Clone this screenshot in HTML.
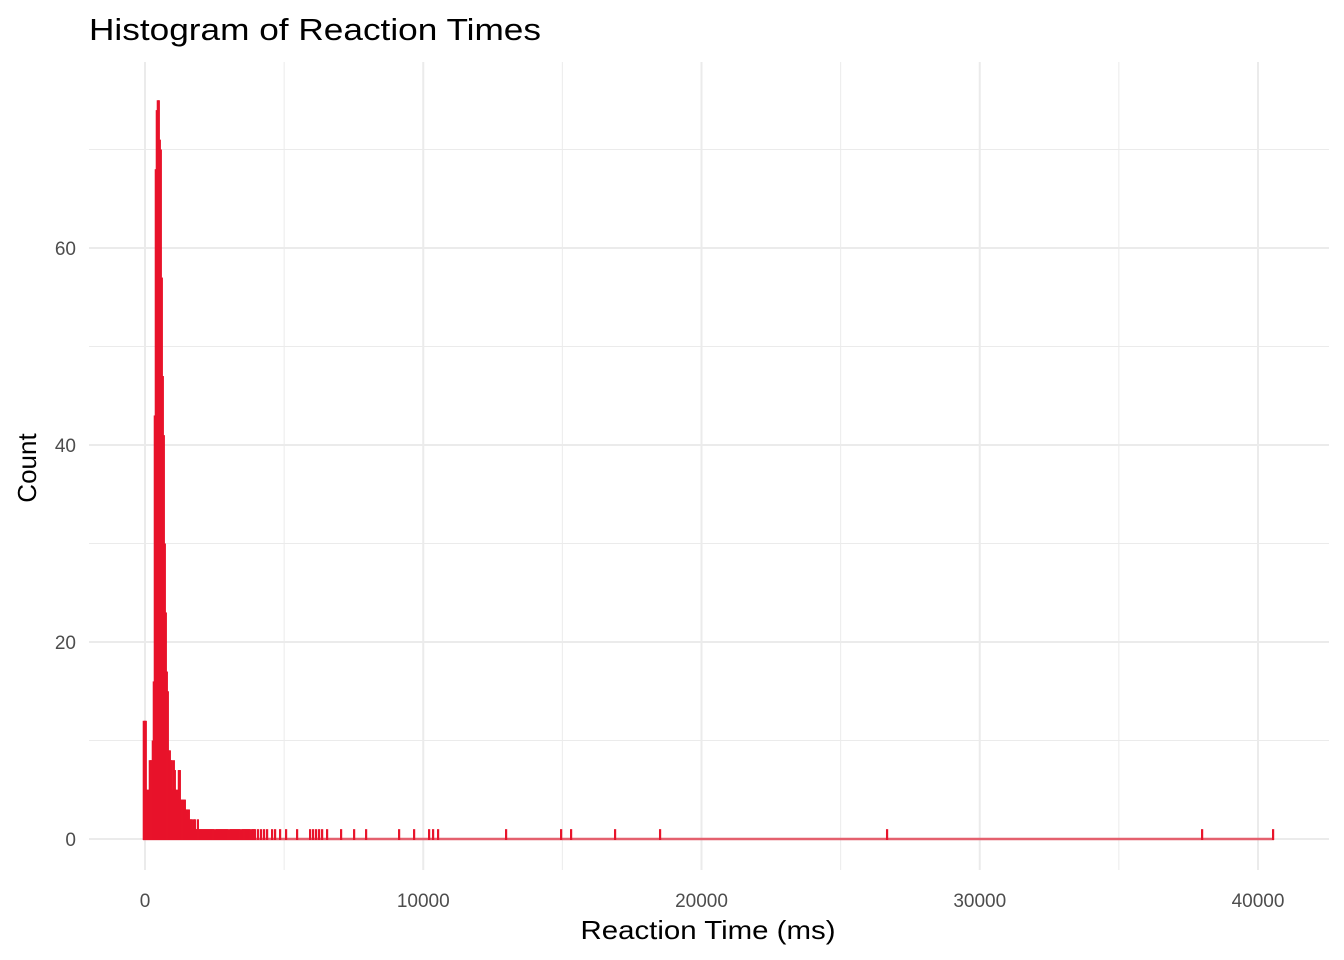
<!DOCTYPE html>
<html><head><meta charset="utf-8"><style>
html,body{margin:0;padding:0;background:#fff;}
svg{display:block;font-family:"Liberation Sans",Arial,sans-serif;}
</style></head><body>
<svg id="chart" width="1344" height="960" viewBox="0 0 1344 960">
<text x="89" y="40" font-size="31" fill="#000" textLength="452" lengthAdjust="spacingAndGlyphs">Histogram of Reaction Times</text>
<g id="grid"></g>
<g id="bars"></g>
<g id="axes"></g>
<text x="708" y="939" font-size="26" text-anchor="middle" fill="#000" textLength="255" lengthAdjust="spacingAndGlyphs">Reaction Time (ms)</text>
<text transform="translate(36,468) rotate(-90)" font-size="26" text-anchor="middle" fill="#000">Count</text>
</svg>
<script>
const binWidth = 36;
const firstBinStart = -72;
const binCounts = [12,12,12,5,5,5,8,8,8,10,16,43,68,74,75,75,71,70,57,47,41,30,23,17,15,9,9,8,8,5,8,7,5,5,5,7,7,4,4,4,4,4,3,3,3,3,2,2,2,1,2,2,1,1,2,
1,1,1,1,1,1,1,1,1,1,1,1,1,1,1,1,0,1,1,1,1,1,1,1,1,1,1,1,1,1,0,1,1,1,1,1,1,1,1,1,1,1,0,1,1,1,1,1,1,1,1,1,0,1,1,1];
const tailValues = [3953,4061,4169,4277,4385,4564,4672,4852,5067,5463,5930,6038,6146,6254,6362,6541,7044,7512,7943,9129,9668,10207,10350,10530,12974,14951,15310,16891,18508,26666,37988,40539];
const xTicks = [0,10000,20000,30000,40000];
const xMinor = [5000,15000,25000,35000];
const yTicks = [0,20,40,60];
const yMinor = [10,30,50,70];
const xMax = 40539;

const NS="http://www.w3.org/2000/svg";
const X = v => 145 + v*(1258-145)/40000;
const Y = v => 839 - v*(839-248)/60;
const PL=89, PR=1329, PT=62, PB=870;
function mk(tag, attrs, parent){const e=document.createElementNS(NS,tag);for(const k in attrs)e.setAttribute(k,attrs[k]);parent.appendChild(e);return e;}
const grid=document.getElementById('grid'), bars=document.getElementById('bars'), axes=document.getElementById('axes');
yMinor.forEach(v=>{const l=mk('line',{x1:PL,x2:PR,y1:Y(v),y2:Y(v),stroke:'#ebebeb','stroke-width':1},grid);

});
xMinor.forEach(v=>{const l=mk('line',{x1:X(v),x2:X(v),y1:PT,y2:PB,stroke:'#ebebeb','stroke-width':1},grid);

});
yTicks.forEach(v=>{const l=mk('line',{x1:PL,x2:PR,y1:Y(v),y2:Y(v),stroke:'#ebebeb','stroke-width':2},grid);


const t=mk('text',{x:76,y:Y(v)+7,'font-size':19,'text-anchor':'end',fill:'#4d4d4d'},axes);t.textContent=v;

});
xTicks.forEach(v=>{const l=mk('line',{x1:X(v),x2:X(v),y1:PT,y2:PB,stroke:'#ebebeb','stroke-width':2},grid);


const t=mk('text',{x:X(v),y:907,'font-size':19,'text-anchor':'middle',fill:'#4d4d4d'},axes);t.textContent=v;

});
const base=mk('line',{x1:X(firstBinStart),x2:X(xMax)+1,y1:Y(0),y2:Y(0),stroke:'#e4606e','stroke-width':2.5},bars);


const bw = X(binWidth)-X(0);
binCounts.forEach((c,i)=>{if(!c)return;const s=firstBinStart+i*binWidth;
const r=mk('rect',{x:X(s)-0.3,y:Y(c),width:bw+1.2,height:Y(0)-Y(c)+1,fill:'#e8132a'},bars);

});
tailValues.forEach(v=>{const r=mk('rect',{x:X(v)-1,y:Y(1),width:2.2,height:Y(0)-Y(1)+1,fill:'#e8132a'},bars);

});
</script>
</body></html>
